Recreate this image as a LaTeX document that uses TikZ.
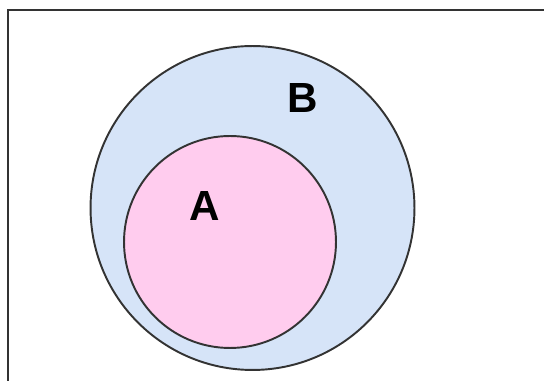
\documentclass[tikz,border=0pt]{standalone}
\usepackage{fontspec}
\setmainfont{Liberation Sans}
\usepackage{tikz}
\usetikzlibrary{positioning}
\definecolor{setB}{HTML}{D6E4F8}
\definecolor{setA}{HTML}{FFCCEE}
\definecolor{edgeGray}{HTML}{333333}

\begin{document}
\begin{tikzpicture}[
    x=0.02cm, y=-0.02cm,
    setcircle/.style={draw=edgeGray, circle, line width=1.1pt, inner sep=0pt},
    setlabel/.style={font=\fontsize{24}{28}\selectfont\bfseries, text=black},
    frame/.style={draw=edgeGray, line width=1.6pt},
]
\useasboundingbox (0,0) rectangle (544,381);

% ── Frame ──
\draw[frame] (8,381) |- (544,10);

% ── Sets ──
\node[setcircle, fill=setB, minimum size=6.48cm] (bset) at (252.5,208) {};
\node[setcircle, fill=setA, minimum size=4.24cm] (aset) at (230,242) {};

% ── Labels ──
\node[setlabel] (blabel) at (303,98) {B};
\node[setlabel] (alabel) at (205,206) {A};
\end{tikzpicture}
\end{document}
